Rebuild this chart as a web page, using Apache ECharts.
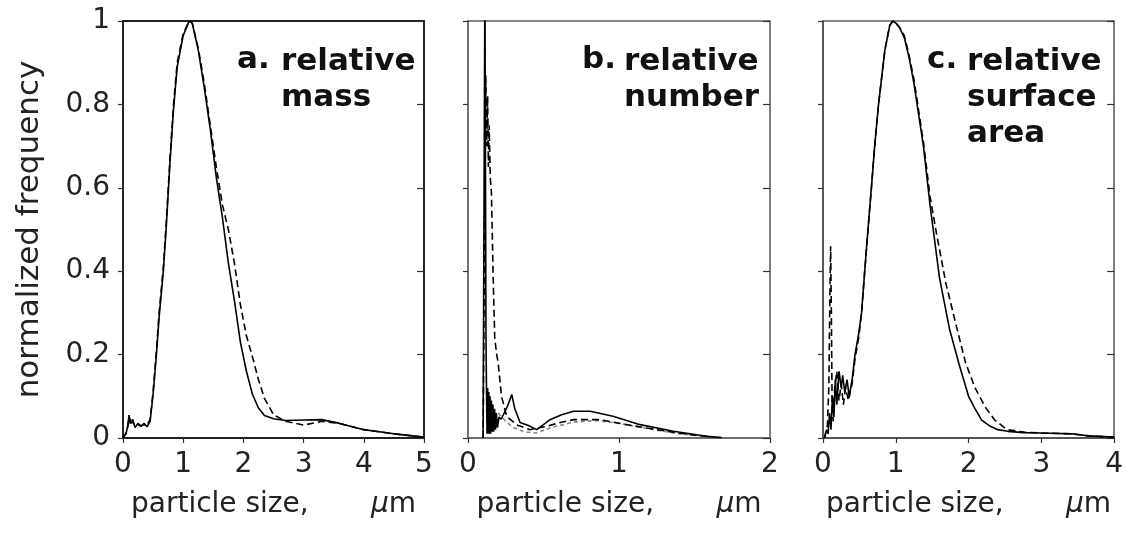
<!DOCTYPE html>
<html>
<head>
<meta charset="utf-8">
<script src="https://cdn.jsdelivr.net/npm/echarts@6/dist/echarts.min.js"></script>
<style>
html,body{margin:0;padding:0;background:#fff;}
#chart{width:1126px;height:536px;}
</style>
</head>
<body>
<div id="chart"></div>
<script>
// ---- data ----
const yTickValues = [0, 0.2, 0.4, 0.6, 0.8, 1];
const panelTitles = [['a.', 'relative\nmass'], ['b.', 'relative\nnumber'], ['c.', 'relative\nsurface\narea']];
const xMaxes = [5, 2, 4];

// a. relative mass
const massX = [0, 0.05, 0.08, 0.1, 0.13, 0.16, 0.2, 0.25, 0.3, 0.35, 0.4, 0.45, 0.5, 0.55, 0.6, 0.67, 0.72, 0.78, 0.84, 0.9, 1.0, 1.1, 1.15, 1.25, 1.35, 1.45, 1.55, 1.65, 1.75, 1.85, 1.95, 2.05, 2.15, 2.25, 2.35, 2.5, 2.7, 3.0, 3.3, 3.6, 4.0, 4.5, 5.0];
const massSolid = [0, 0.01, 0.03, 0.055, 0.035, 0.045, 0.025, 0.035, 0.028, 0.035, 0.027, 0.04, 0.105, 0.19, 0.29, 0.4, 0.51, 0.66, 0.79, 0.89, 0.965, 1.0, 0.995, 0.93, 0.84, 0.74, 0.625, 0.53, 0.42, 0.33, 0.23, 0.16, 0.105, 0.072, 0.054, 0.046, 0.042, 0.043, 0.044, 0.035, 0.02, 0.01, 0.002];
const massDashed = [0, 0.012, 0.028, 0.05, 0.03, 0.04, 0.028, 0.03, 0.03, 0.032, 0.03, 0.045, 0.11, 0.2, 0.3, 0.41, 0.52, 0.67, 0.8, 0.9, 0.97, 1.0, 0.995, 0.935, 0.85, 0.75, 0.65, 0.56, 0.50, 0.42, 0.32, 0.245, 0.195, 0.14, 0.095, 0.056, 0.04, 0.031, 0.04, 0.035, 0.02, 0.01, 0.002];

// b. relative number
const numSolidX = [0.10, 0.112, 0.116, 0.119, 0.122, 0.126, 0.13, 0.134, 0.138, 0.142, 0.146, 0.15, 0.155, 0.16, 0.165, 0.17, 0.176, 0.182, 0.188, 0.195, 0.205, 0.22, 0.24, 0.26, 0.29, 0.31, 0.345, 0.4, 0.455, 0.5, 0.543, 0.62, 0.70, 0.81, 0.96, 1.14, 1.36, 1.58, 1.68];
const numSolidY = [0, 1.1, 1.1, 0.25, 0.13, 0.01, 0.12, 0.01, 0.11, 0.01, 0.1, 0.01, 0.09, 0.015, 0.08, 0.015, 0.07, 0.02, 0.06, 0.025, 0.05, 0.045, 0.06, 0.075, 0.104, 0.07, 0.037, 0.03, 0.02, 0.032, 0.044, 0.056, 0.064, 0.064, 0.052, 0.032, 0.016, 0.004, 0.001];
const numDashX = [0.10, 0.118, 0.124, 0.13, 0.135, 0.14, 0.148, 0.155, 0.166, 0.177, 0.19, 0.2, 0.222, 0.256, 0.32, 0.41, 0.52, 0.6, 0.7, 0.87, 1.05, 1.25, 1.47, 1.6];
const numDashY = [0, 0.87, 0.7, 0.82, 0.65, 0.75, 0.62, 0.59, 0.395, 0.24, 0.2, 0.18, 0.1, 0.052, 0.032, 0.02, 0.028, 0.036, 0.044, 0.044, 0.032, 0.02, 0.008, 0.003];
const numGrayX = [0.2, 0.25, 0.3, 0.37, 0.45, 0.55, 0.7, 0.85, 1.0, 1.2, 1.4, 1.6];
const numGrayY = [0.06, 0.04, 0.025, 0.015, 0.012, 0.025, 0.038, 0.042, 0.035, 0.022, 0.01, 0.003];

// c. relative surface area
const areaSolidX = [0.02, 0.05, 0.07, 0.09, 0.11, 0.13, 0.15, 0.17, 0.19, 0.22, 0.25, 0.27, 0.3, 0.33, 0.36, 0.4, 0.44, 0.49, 0.53, 0.56, 0.6, 0.665, 0.71, 0.763, 0.85, 0.918, 0.96, 1.0, 1.05, 1.117, 1.18, 1.25, 1.31, 1.38, 1.47, 1.6, 1.74, 1.87, 2.0, 2.09, 2.18, 2.3, 2.4, 2.54, 2.76, 3.0, 3.42, 3.65, 4.0];
const areaSolidY = [0, 0.02, 0.01, 0.06, 0.02, 0.1, 0.05, 0.14, 0.08, 0.16, 0.12, 0.15, 0.11, 0.14, 0.1, 0.14, 0.2, 0.25, 0.3, 0.37, 0.46, 0.6, 0.7, 0.8, 0.93, 0.99, 1.0, 0.995, 0.985, 0.96, 0.915, 0.85, 0.78, 0.7, 0.56, 0.385, 0.26, 0.177, 0.1, 0.07, 0.043, 0.028, 0.02, 0.016, 0.013, 0.012, 0.01, 0.005, 0.002];
const areaDashX = [0.02, 0.06, 0.08, 0.095, 0.105, 0.115, 0.125, 0.14, 0.16, 0.19, 0.22, 0.25, 0.28, 0.31, 0.35, 0.4, 0.44, 0.49, 0.53, 0.56, 0.6, 0.665, 0.71, 0.763, 0.85, 0.918, 0.96, 1.0, 1.05, 1.117, 1.18, 1.25, 1.31, 1.38, 1.47, 1.56, 1.69, 1.83, 1.96, 2.09, 2.23, 2.36, 2.53, 2.76, 3.0, 3.42, 3.65, 4.0];
const areaDashY = [0, 0.03, 0.12, 0.35, 0.46, 0.3, 0.08, 0.04, 0.12, 0.16, 0.09, 0.13, 0.08, 0.12, 0.09, 0.13, 0.19, 0.24, 0.3, 0.37, 0.46, 0.6, 0.7, 0.8, 0.93, 0.99, 1.0, 0.995, 0.985, 0.965, 0.92, 0.86, 0.79, 0.71, 0.58, 0.49, 0.37, 0.27, 0.18, 0.12, 0.074, 0.043, 0.02, 0.014, 0.012, 0.01, 0.005, 0.002];

// ---- chart ----
const pairs = (xs, ys) => xs.map((x, i) => [x, ys[i]]);
const FONT = 'DejaVu Sans';
const grids = [
  {left: 123, right: 702, top: 21, bottom: 98},
  {left: 468, right: 356, top: 21, bottom: 98},
  {left: 823, right: 4, top: 21, bottom: 98}
];
const frameColors = ['#222', '#666', '#444'];

const xAxis = xMaxes.map((mx, i) => ({
  type: 'value', gridIndex: i, min: 0, max: mx, interval: 1,
  axisLine: {show: true, lineStyle: {color: frameColors[i], width: 1.5}},
  axisTick: {show: true, inside: false, length: 5, lineStyle: {color: '#333', width: 1.2}},
  axisLabel: {show: true, color: '#222', fontFamily: FONT, fontSize: 28, margin: 13},
  splitLine: {show: false},
  name: 'particle size,       {i|\u03bc}m',
  nameLocation: 'middle', nameGap: 53,
  nameTextStyle: {color: '#222', fontFamily: FONT, fontSize: 28,
    rich: {i: {fontStyle: 'italic', fontFamily: FONT, fontSize: 28, color: '#222'}}}
}));

const yAxis = [];
xMaxes.forEach((mx, i) => {
  yAxis.push({
    type: 'value', gridIndex: i, position: 'left', min: 0, max: 1, interval: 0.2,
    axisLine: {show: true, lineStyle: {color: frameColors[i], width: 1.5}},
    axisTick: {show: true, inside: false, length: 5, lineStyle: {color: '#333', width: 1.2}},
    axisLabel: {show: i === 0, color: '#222', fontFamily: FONT, fontSize: 28, margin: 13,
      formatter: v => String(yTickValues.find(t => Math.abs(t - v) < 1e-6) ?? v)},
    splitLine: {show: false},
    name: i === 0 ? 'normalized frequency' : '',
    nameLocation: 'middle', nameGap: 78,
    nameTextStyle: {color: '#222', fontFamily: FONT, fontSize: 31}
  });
  yAxis.push({
    type: 'value', gridIndex: i, position: 'right', min: 0, max: 1, interval: 0.2,
    axisLine: {show: true, lineStyle: {color: i === 0 ? '#222' : '#777', width: 1.5}},
    axisTick: {show: true, inside: true, length: 7, lineStyle: {color: '#333', width: 1.2}},
    axisLabel: {show: false},
    splitLine: {show: false}
  });
});

const solidStyle = {color: '#000', width: 1.6, type: 'solid'};
const dashStyle = {color: '#000', width: 1.6, type: [7, 4]};
const grayStyle = {color: '#888', width: 1.6, type: [4, 3]};
const mk = (data, gi, style, z) => ({
  type: 'line', xAxisIndex: gi, yAxisIndex: gi * 2, data: data,
  showSymbol: false, symbol: 'none', clip: true, lineStyle: style, z: z || 2,
  silent: true, animation: false
});

const series = [
  mk(pairs(massX, massDashed), 0, dashStyle),
  mk(pairs(massX, massSolid), 0, solidStyle, 3),
  mk(pairs(numGrayX, numGrayY), 1, grayStyle),
  mk(pairs(numDashX, numDashY), 1, dashStyle),
  mk(pairs(numSolidX, numSolidY), 1, solidStyle, 3),
  mk(pairs(areaDashX, areaDashY), 2, dashStyle),
  mk(pairs(areaSolidX, areaSolidY), 2, solidStyle, 3)
];

const titleX = [[237, 281], [582, 624], [927, 967]];
const graphic = [];
panelTitles.forEach((t, i) => {
  graphic.push({type: 'text', left: titleX[i][0], top: 44, z: 10,
    style: {text: t[0], font: 'bold 31px "DejaVu Sans"', fill: '#111'}});
  graphic.push({type: 'text', left: titleX[i][1], top: 44, z: 10,
    style: {text: t[1], font: 'bold 31px "DejaVu Sans"', fill: '#111', lineHeight: 36}});
});

const chart = echarts.init(document.getElementById('chart'), null, {renderer: 'canvas'});
chart.setOption({
  animation: false,
  backgroundColor: '#fff',
  grid: grids.map((g, i) => Object.assign({show: true, borderColor: i === 0 ? '#222' : '#888', borderWidth: 1.8, backgroundColor: 'transparent'}, g)),
  xAxis: xAxis,
  yAxis: yAxis,
  series: series,
  graphic: graphic
});
</script>
</body>
</html>
